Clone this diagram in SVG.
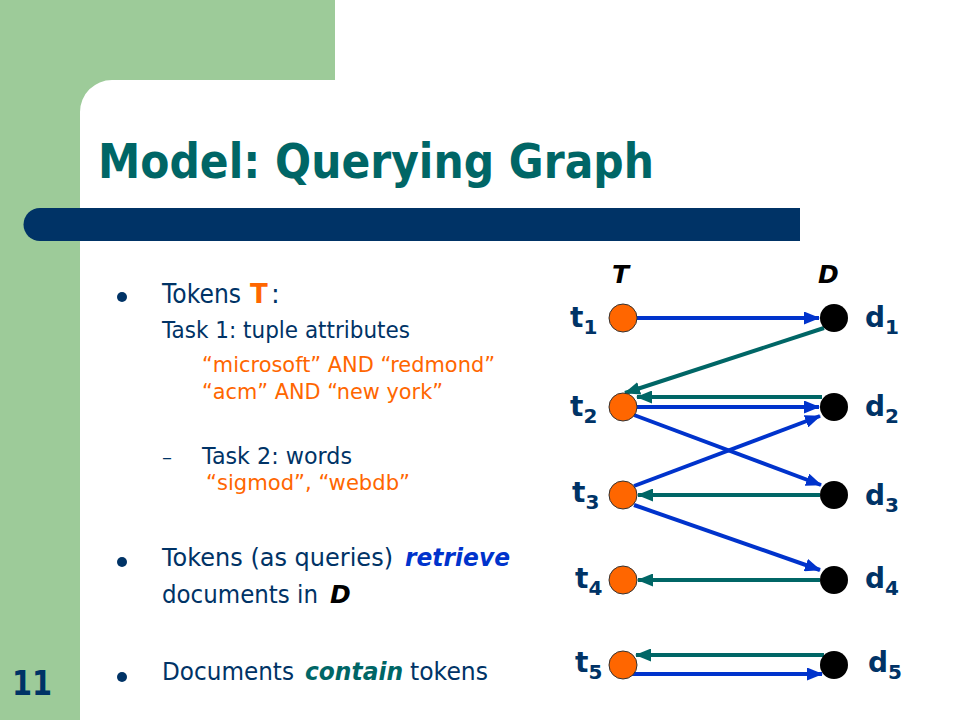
<svg xmlns="http://www.w3.org/2000/svg" width="960" height="720" viewBox="0 0 960 720">
<style>
  text { font-family: "DejaVu Sans", Verdana, sans-serif; }
  .body { fill: #003366; }
  .org { fill: #FF6600; }
  .lbl { font-weight: bold; fill: #003366; font-size: 28px; }
  .sub { font-size: 20px; }
  .tn { fill: #FF6600; stroke: #333333; stroke-width: 1; }
  .dn { fill: #000000; }
  .ret { stroke: #0033CC; stroke-width: 4; fill: none; marker-end: url(#ab); }
  .con { stroke: #006666; stroke-width: 4; fill: none; marker-end: url(#at); }
  .hdr { font-weight: bold; font-style: italic; font-size: 25px; fill: #000; }
  .bi { font-weight: bold; font-style: italic; }
</style>
<defs>
  <marker id="ab" markerUnits="userSpaceOnUse" markerWidth="16" markerHeight="13" refX="15" refY="6.5" orient="auto">
    <path d="M0,0 L16,6.5 L0,13 Z" fill="#0033CC"/>
  </marker>
  <marker id="at" markerUnits="userSpaceOnUse" markerWidth="16" markerHeight="13" refX="15" refY="6.5" orient="auto">
    <path d="M0,0 L16,6.5 L0,13 Z" fill="#006666"/>
  </marker>
</defs>
<rect width="960" height="720" fill="#FFFFFF"/>
<path d="M0,0 H335 V80 H112 A32,32 0 0 0 80,112 V720 H0 Z" fill="#9DCB99"/>
<path d="M40,208 H800 V241 H40 A16.5,16.5 0 0 1 40,208 Z" fill="#003366"/>
<text x="98" y="178" font-size="48" font-weight="bold" fill="#006666" textLength="556" lengthAdjust="spacingAndGlyphs">Model: Querying Graph</text>
<text x="12" y="695" font-size="33" font-weight="bold" fill="#003366" textLength="40" lengthAdjust="spacingAndGlyphs">11</text>

<g id="bullets">
  <circle cx="122" cy="297" r="5" fill="#003366"/>
  <circle cx="122" cy="562" r="5" fill="#003366"/>
  <circle cx="122" cy="677" r="5" fill="#003366"/>
  <text x="162" y="303" font-size="26" class="body" textLength="79" lengthAdjust="spacingAndGlyphs">Tokens</text>
  <text x="250" y="303" font-size="26" font-weight="bold" class="org">T</text>
  <text x="271" y="303" font-size="26" class="body">:</text>
  <text x="162" y="338" font-size="23" class="body" textLength="248" lengthAdjust="spacingAndGlyphs">Task 1: tuple attributes</text>
  <text x="202" y="372" font-size="22" class="org" textLength="293" lengthAdjust="spacingAndGlyphs">“microsoft” AND “redmond”</text>
  <text x="202" y="399" font-size="22" class="org" textLength="241" lengthAdjust="spacingAndGlyphs">“acm” AND “new york”</text>
  <text x="162" y="464" font-size="20" class="body">–</text>
  <text x="202" y="464" font-size="23" class="body" textLength="150" lengthAdjust="spacingAndGlyphs">Task 2: words</text>
  <text x="206" y="490" font-size="22" class="org" textLength="204" lengthAdjust="spacingAndGlyphs">“sigmod”, “webdb”</text>
  <text x="162" y="566" font-size="25" class="body" textLength="231" lengthAdjust="spacingAndGlyphs">Tokens (as queries)</text>
  <text x="405" y="566" font-size="25" class="bi" fill="#0033CC" textLength="105" lengthAdjust="spacingAndGlyphs">retrieve</text>
  <text x="162" y="603" font-size="25" class="body" textLength="156" lengthAdjust="spacingAndGlyphs">documents in</text>
  <text x="330" y="603" font-size="25" class="bi" fill="#000000">D</text>
  <text x="162" y="680" font-size="25" class="body" textLength="132" lengthAdjust="spacingAndGlyphs">Documents</text>
  <text x="305" y="680" font-size="25" class="bi" fill="#006666" textLength="98" lengthAdjust="spacingAndGlyphs">contain</text>
  <text x="410" y="680" font-size="25" class="body" textLength="78" lengthAdjust="spacingAndGlyphs">tokens</text>
</g>

<text class="hdr" x="612" y="283">T</text>
<text class="hdr" x="818" y="283">D</text>

<g id="connectors">
  <line class="ret" x1="637" y1="318" x2="819" y2="318"/>
  <line class="con" x1="824" y1="328" x2="625" y2="393"/>
  <line class="con" x1="822" y1="397" x2="637" y2="397"/>
  <line class="ret" x1="637" y1="407" x2="819" y2="407"/>
  <line class="ret" x1="634" y1="415" x2="821" y2="485"/>
  <line class="ret" x1="634" y1="486" x2="820" y2="416"/>
  <line class="con" x1="820" y1="495" x2="638" y2="495"/>
  <line class="ret" x1="634" y1="505" x2="820" y2="570"/>
  <line class="con" x1="820" y1="580" x2="638" y2="580"/>
  <line class="con" x1="824" y1="655" x2="636" y2="655"/>
  <line class="ret" x1="632" y1="674" x2="822" y2="674"/>
</g>

<g id="t1"><circle class="tn" cx="623" cy="318" r="14"/><text class="lbl" x="570" y="327">t<tspan class="sub" dy="7">1</tspan></text></g>
<g id="t2"><circle class="tn" cx="623" cy="407" r="14"/><text class="lbl" x="570" y="416">t<tspan class="sub" dy="7">2</tspan></text></g>
<g id="t3"><circle class="tn" cx="623" cy="495" r="14"/><text class="lbl" x="572" y="502">t<tspan class="sub" dy="7">3</tspan></text></g>
<g id="t4"><circle class="tn" cx="623" cy="580" r="14"/><text class="lbl" x="575" y="588">t<tspan class="sub" dy="7">4</tspan></text></g>
<g id="t5"><circle class="tn" cx="623" cy="665" r="14"/><text class="lbl" x="575" y="672">t<tspan class="sub" dy="7">5</tspan></text></g>

<g id="d1"><circle class="dn" cx="834" cy="318" r="14"/><text class="lbl" x="865" y="327">d<tspan class="sub" dy="7">1</tspan></text></g>
<g id="d2"><circle class="dn" cx="834" cy="407" r="14"/><text class="lbl" x="865" y="416">d<tspan class="sub" dy="7">2</tspan></text></g>
<g id="d3"><circle class="dn" cx="834" cy="495" r="14"/><text class="lbl" x="865" y="505">d<tspan class="sub" dy="7">3</tspan></text></g>
<g id="d4"><circle class="dn" cx="834" cy="580" r="14"/><text class="lbl" x="865" y="588">d<tspan class="sub" dy="7">4</tspan></text></g>
<g id="d5"><circle class="dn" cx="834" cy="665" r="14"/><text class="lbl" x="868" y="672">d<tspan class="sub" dy="7">5</tspan></text></g>
</svg>
